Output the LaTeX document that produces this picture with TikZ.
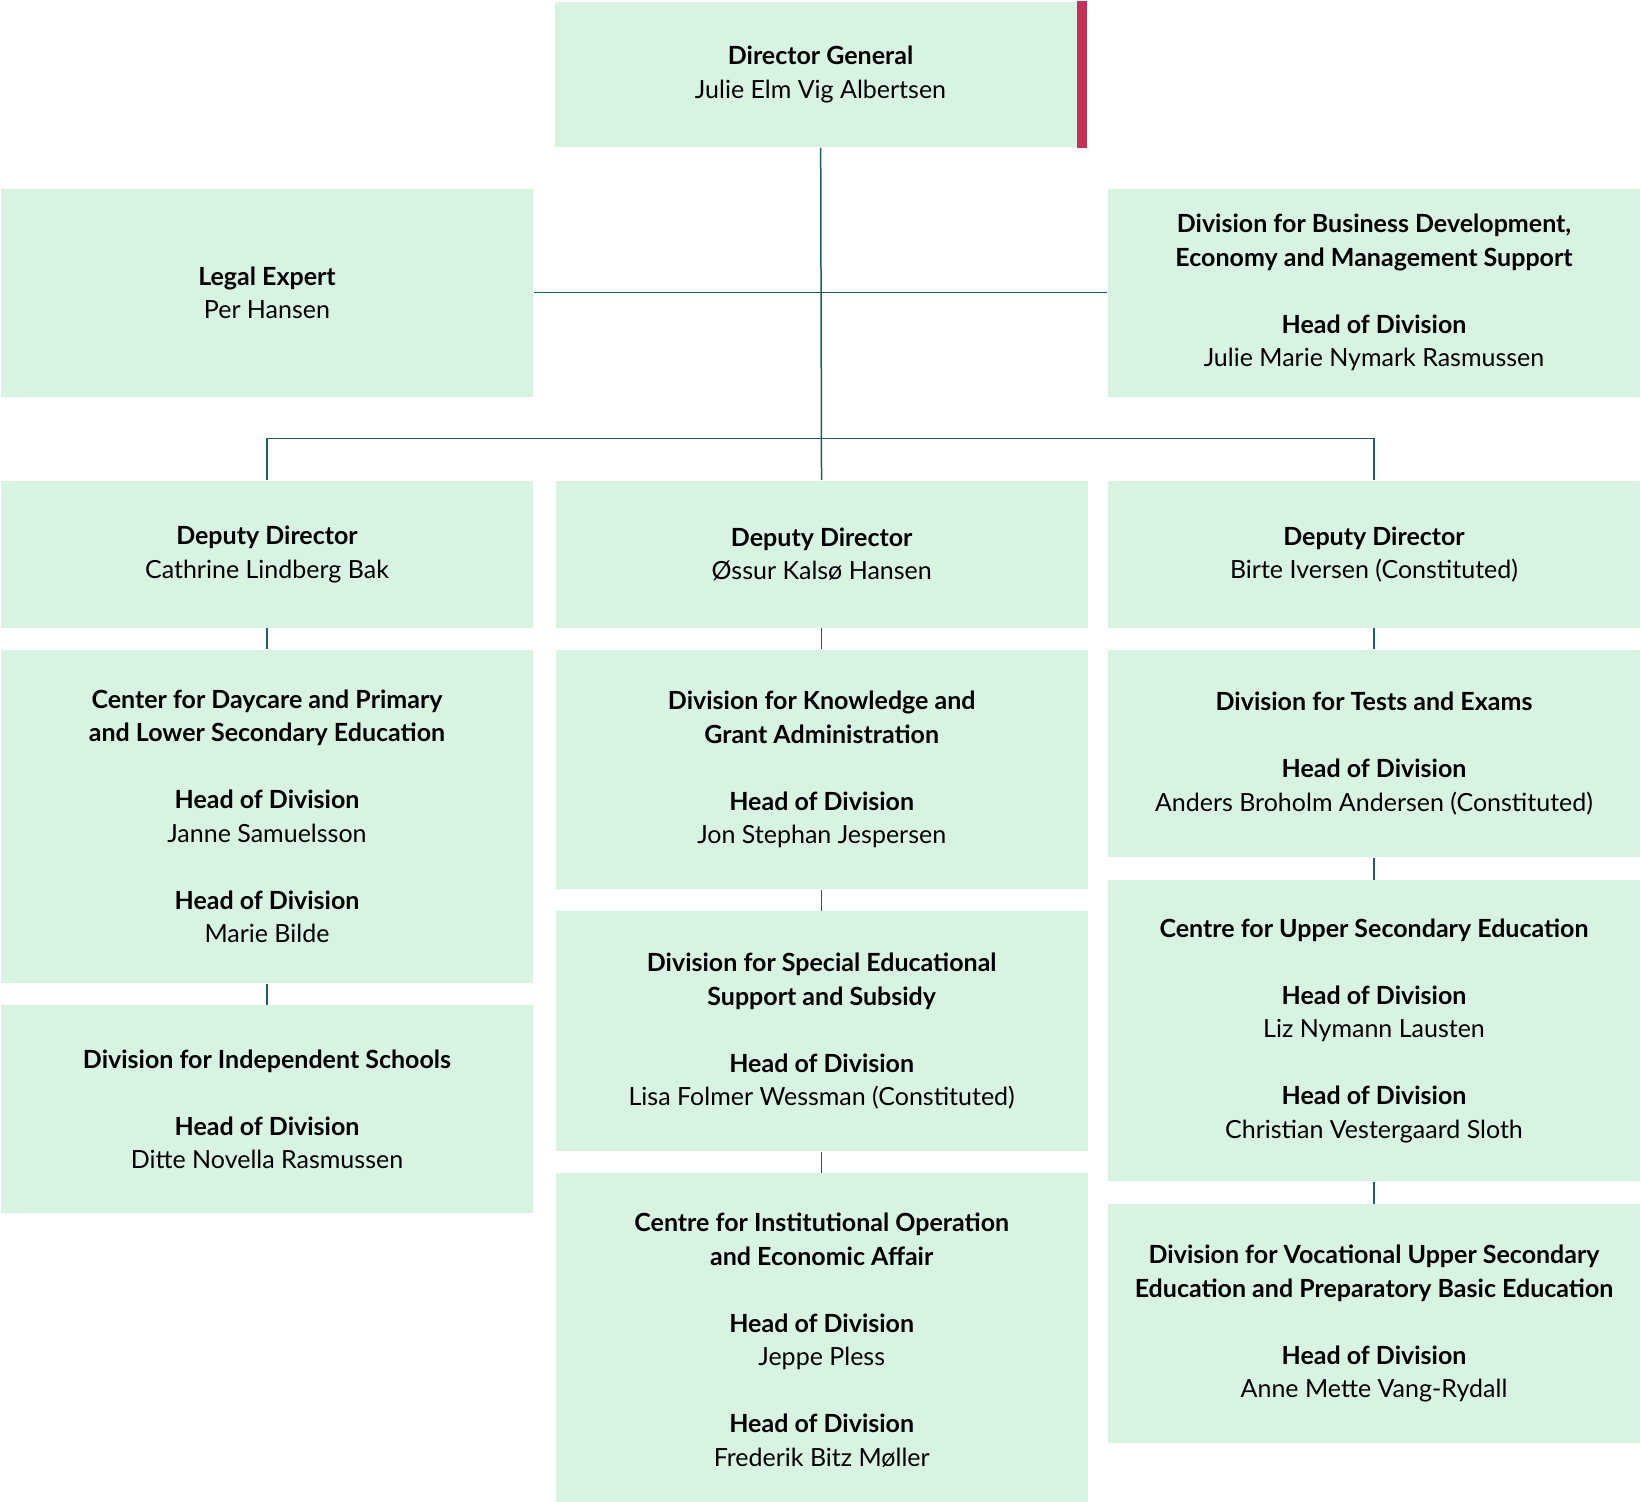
\documentclass[tikz,border=0pt]{standalone}
\usepackage{fontspec}
\setmainfont{Lato}
\usepackage{xcolor}
\usetikzlibrary{positioning}
\definecolor{boxgreen}{HTML}{D8F3E2}
\definecolor{linkteal}{HTML}{1E5F63}
\definecolor{markred}{HTML}{C13259}
\newcommand{\gapline}{\\[16.75pt]}

\begin{document}
\begin{tikzpicture}[semithick]
			\tikzstyle{unit}=[fill=boxgreen,text=black,inner sep=0pt,minimum width=266pt,align=center,font=\fontsize{12.5pt}{16.75pt}\selectfont]
			\tikzstyle{link}=[color=linkteal,line width=0.75pt]
			\useasboundingbox (0,0) rectangle (820.5pt,-750.5pt);
			% top rows
			\node[unit,anchor=north,minimum height=72.75pt]  (dg) at (410.25pt,-0.5pt)     {\textbf{Director General}\\Julie Elm Vig Albertsen};
			\node[unit,anchor=north,minimum height=104pt]    (legal) at (133.5pt,-94pt)    {\textbf{Legal Expert}\\Per Hansen};
			\node[unit,anchor=north,minimum height=104pt]    (biz) at (687pt,-94pt)        {\textbf{Division for Business Development,}\\\textbf{Economy and Management Support}\gapline\textbf{Head of Division}\\Julie Marie Nymark Rasmussen};
			\node[unit,minimum height=73.5pt]   (dep1)[below=41.5pt of legal]             {\textbf{Deputy Director}\\Cathrine Lindberg Bak};
			\node[unit,minimum height=73.5pt]   (dep2)[right=10.75pt of dep1]             {\textbf{Deputy Director}\\Øssur Kalsø Hansen};
			\node[unit,minimum height=73.5pt]   (dep3)[below=41.5pt of biz]               {\textbf{Deputy Director}\\Birte Iversen (Constituted)};
			% left column
			\node[unit,minimum height=166.5pt]  (daycare)[below=10.5pt of dep1]           {\textbf{Center for Daycare and Primary}\\\textbf{and Lower Secondary Education}\gapline\textbf{Head of Division}\\Janne Samuelsson\gapline\textbf{Head of Division}\\Marie Bilde};
			\node[unit,minimum height=104pt]    (indep)[below=10.5pt of daycare]          {\textbf{Division for Independent Schools}\gapline\textbf{Head of Division}\\Ditte Novella Rasmussen};
			% middle column
			\node[unit,minimum height=119.5pt]  (grant)[below=10.5pt of dep2]             {\textbf{Division for Knowledge and}\\\textbf{Grant Administration}\gapline\textbf{Head of Division}\\Jon Stephan Jespersen};
			\node[unit,minimum height=120pt]    (special)[below=10.5pt of grant]          {\textbf{Division for Special Educational}\\\textbf{Support and Subsidy}\gapline\textbf{Head of Division}\\Lisa Folmer Wessman (Constituted)};
			\node[unit,minimum height=166.5pt]  (inst)[below=10.5pt of special]           {\textbf{Centre for Institutional Operation}\\\textbf{and Economic Affair}\gapline\textbf{Head of Division}\\Jeppe Pless\gapline\textbf{Head of Division}\\Frederik Bitz Møller};
			% right column
			\node[unit,minimum height=103.5pt]  (exams)[below=10.5pt of dep3]             {\textbf{Division for Tests and Exams}\gapline\textbf{Head of Division}\\Anders Broholm Andersen (Constituted)};
			\node[unit,minimum height=150.5pt]  (upper)[below=11pt of exams]              {\textbf{Centre for Upper Secondary Education}\gapline\textbf{Head of Division}\\Liz Nymann Lausten\gapline\textbf{Head of Division}\\Christian Vestergaard Sloth};
			\node[unit,minimum height=119.25pt] (vocational)[below=11pt of upper]         {\textbf{Division for Vocational Upper Secondary}\\\textbf{Education and Preparatory Basic Education}\gapline\textbf{Head of Division}\\Anne Mette Vang-Rydall};
			\fill[markred] ([xshift=-5pt]dg.north east) rectangle (dg.south east);
			\coordinate (fork) at (410.25pt,-219.25pt);
			\draw[link] (dep1.north) |- (fork) -| (dep3.north);
			\path[link]
			(dg)      edge (dep2)
			(legal)   edge (biz)
			(dep1)    edge (daycare)
			(daycare) edge (indep)
			(dep2)    edge (grant)
			(grant)   edge (special)
			(special) edge (inst)
			(dep3)    edge (exams)
			(exams)   edge (upper)
			(upper)   edge (vocational);
\end{tikzpicture}
\end{document}
